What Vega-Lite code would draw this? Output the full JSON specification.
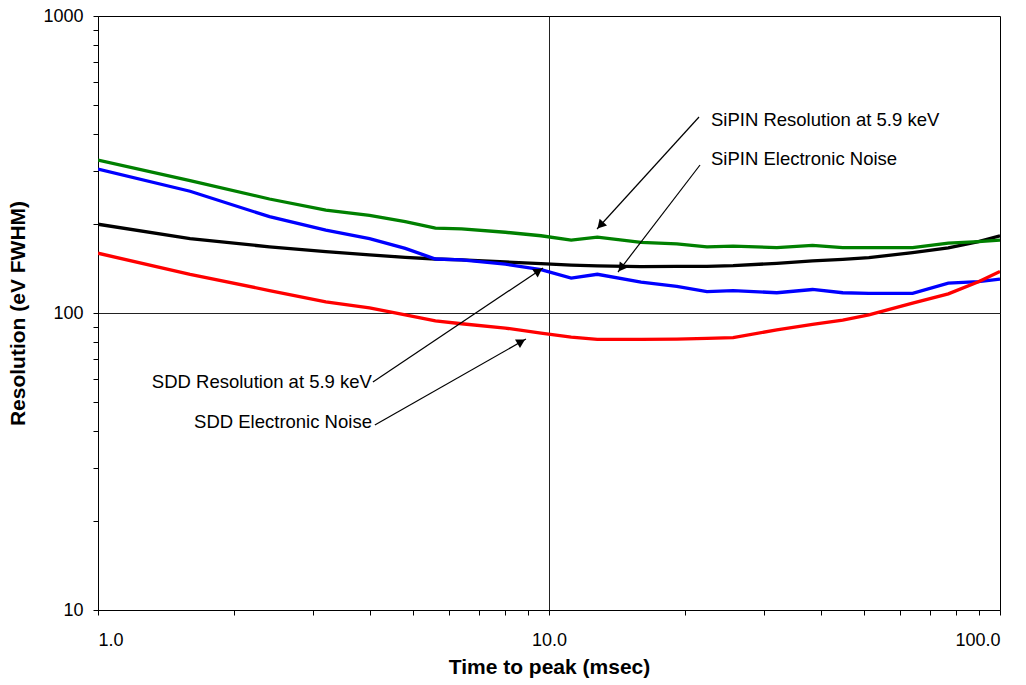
{
  "$schema": "https://vega.github.io/schema/vega-lite/v6.json",
  "width": 902,
  "height": 594,
  "autosize": {"type": "none"},
  "padding": {"left": 98, "top": 16, "right": 26, "bottom": 75},
  "background": "white",
  "config": {
    "view": {"stroke": "black", "strokeWidth": 1},
    "font": "Liberation Sans",
    "axis": {
      "domainColor": "black",
      "tickColor": "black",
      "labelColor": "black",
      "titleColor": "black",
      "labelFont": "Liberation Sans",
      "titleFont": "Liberation Sans",
      "labelFontSize": 18,
      "titleFontSize": 21,
      "titleFontWeight": "bold",
      "tickSize": 5,
      "gridColor": "#222222",
      "gridWidth": 1
    }
  },
  "datasets": {
    "curves": [
      {"s": "SDD Resolution", "t": 1.0, "r": 199}, {"s": "SDD Resolution", "t": 1.6, "r": 178}, {"s": "SDD Resolution", "t": 2.4, "r": 167}, {"s": "SDD Resolution", "t": 3.2, "r": 161}, {"s": "SDD Resolution", "t": 4.0, "r": 157}, {"s": "SDD Resolution", "t": 4.8, "r": 154}, {"s": "SDD Resolution", "t": 5.6, "r": 152}, {"s": "SDD Resolution", "t": 6.4, "r": 151}, {"s": "SDD Resolution", "t": 8.0, "r": 148.5}, {"s": "SDD Resolution", "t": 9.6, "r": 146.6}, {"s": "SDD Resolution", "t": 11.2, "r": 145}, {"s": "SDD Resolution", "t": 12.8, "r": 144}, {"s": "SDD Resolution", "t": 16, "r": 143.2}, {"s": "SDD Resolution", "t": 19.2, "r": 143.6}, {"s": "SDD Resolution", "t": 22.4, "r": 143.6}, {"s": "SDD Resolution", "t": 25.6, "r": 144.3}, {"s": "SDD Resolution", "t": 32, "r": 147}, {"s": "SDD Resolution", "t": 38.4, "r": 149.7}, {"s": "SDD Resolution", "t": 44.8, "r": 151.6}, {"s": "SDD Resolution", "t": 51.2, "r": 153.6}, {"s": "SDD Resolution", "t": 64, "r": 159.6}, {"s": "SDD Resolution", "t": 76.8, "r": 165.6}, {"s": "SDD Resolution", "t": 89.6, "r": 174}, {"s": "SDD Resolution", "t": 100, "r": 182},
      {"s": "SiPIN Resolution", "t": 1.0, "r": 327}, {"s": "SiPIN Resolution", "t": 1.6, "r": 279}, {"s": "SiPIN Resolution", "t": 2.4, "r": 242}, {"s": "SiPIN Resolution", "t": 3.2, "r": 222}, {"s": "SiPIN Resolution", "t": 4.0, "r": 213}, {"s": "SiPIN Resolution", "t": 4.8, "r": 203}, {"s": "SiPIN Resolution", "t": 5.6, "r": 193}, {"s": "SiPIN Resolution", "t": 6.4, "r": 192}, {"s": "SiPIN Resolution", "t": 8.0, "r": 187}, {"s": "SiPIN Resolution", "t": 9.6, "r": 182}, {"s": "SiPIN Resolution", "t": 11.2, "r": 176}, {"s": "SiPIN Resolution", "t": 12.8, "r": 180}, {"s": "SiPIN Resolution", "t": 16, "r": 173}, {"s": "SiPIN Resolution", "t": 19.2, "r": 171}, {"s": "SiPIN Resolution", "t": 22.4, "r": 167}, {"s": "SiPIN Resolution", "t": 25.6, "r": 168}, {"s": "SiPIN Resolution", "t": 32, "r": 166}, {"s": "SiPIN Resolution", "t": 38.4, "r": 169}, {"s": "SiPIN Resolution", "t": 44.8, "r": 166}, {"s": "SiPIN Resolution", "t": 51.2, "r": 166}, {"s": "SiPIN Resolution", "t": 64, "r": 166}, {"s": "SiPIN Resolution", "t": 76.8, "r": 172}, {"s": "SiPIN Resolution", "t": 89.6, "r": 174}, {"s": "SiPIN Resolution", "t": 100, "r": 176},
      {"s": "SiPIN Noise", "t": 1.0, "r": 305}, {"s": "SiPIN Noise", "t": 1.6, "r": 257}, {"s": "SiPIN Noise", "t": 2.4, "r": 211}, {"s": "SiPIN Noise", "t": 3.2, "r": 190}, {"s": "SiPIN Noise", "t": 4.0, "r": 178}, {"s": "SiPIN Noise", "t": 4.8, "r": 165}, {"s": "SiPIN Noise", "t": 5.6, "r": 152}, {"s": "SiPIN Noise", "t": 6.4, "r": 151}, {"s": "SiPIN Noise", "t": 8.0, "r": 146}, {"s": "SiPIN Noise", "t": 9.6, "r": 140}, {"s": "SiPIN Noise", "t": 11.2, "r": 131}, {"s": "SiPIN Noise", "t": 12.8, "r": 135}, {"s": "SiPIN Noise", "t": 16, "r": 127}, {"s": "SiPIN Noise", "t": 19.2, "r": 123}, {"s": "SiPIN Noise", "t": 22.4, "r": 118}, {"s": "SiPIN Noise", "t": 25.6, "r": 119}, {"s": "SiPIN Noise", "t": 32, "r": 117}, {"s": "SiPIN Noise", "t": 38.4, "r": 120}, {"s": "SiPIN Noise", "t": 44.8, "r": 117}, {"s": "SiPIN Noise", "t": 51.2, "r": 116.5}, {"s": "SiPIN Noise", "t": 64, "r": 116.5}, {"s": "SiPIN Noise", "t": 76.8, "r": 126}, {"s": "SiPIN Noise", "t": 89.6, "r": 127.5}, {"s": "SiPIN Noise", "t": 100, "r": 130},
      {"s": "SDD Noise", "t": 1.0, "r": 159}, {"s": "SDD Noise", "t": 1.6, "r": 135}, {"s": "SDD Noise", "t": 2.4, "r": 119}, {"s": "SDD Noise", "t": 3.2, "r": 109}, {"s": "SDD Noise", "t": 4.0, "r": 104}, {"s": "SDD Noise", "t": 4.8, "r": 98.5}, {"s": "SDD Noise", "t": 5.6, "r": 94}, {"s": "SDD Noise", "t": 6.4, "r": 92}, {"s": "SDD Noise", "t": 8.0, "r": 89}, {"s": "SDD Noise", "t": 9.6, "r": 85.5}, {"s": "SDD Noise", "t": 11.2, "r": 83}, {"s": "SDD Noise", "t": 12.8, "r": 81.5}, {"s": "SDD Noise", "t": 16, "r": 81.5}, {"s": "SDD Noise", "t": 19.2, "r": 81.7}, {"s": "SDD Noise", "t": 22.4, "r": 82.2}, {"s": "SDD Noise", "t": 25.6, "r": 82.6}, {"s": "SDD Noise", "t": 32, "r": 87.7}, {"s": "SDD Noise", "t": 38.4, "r": 91.6}, {"s": "SDD Noise", "t": 44.8, "r": 94.7}, {"s": "SDD Noise", "t": 51.2, "r": 98.5}, {"s": "SDD Noise", "t": 64, "r": 108}, {"s": "SDD Noise", "t": 76.8, "r": 116}, {"s": "SDD Noise", "t": 89.6, "r": 127.5}, {"s": "SDD Noise", "t": 100, "r": 138}
    ],
    "arrows": [
      {"id": 1, "t": 21.51, "r": 457, "t2": 12.78, "r2": 191.8, "ht": 13.0, "hr": 197.5},
      {"id": 2, "t": 21.62, "r": 315, "t2": 14.22, "r2": 137.4, "ht": 14.45, "hr": 141.8},
      {"id": 3, "t": 4.07, "r": 58.6, "t2": 9.70, "r2": 141.8, "ht": 9.48, "hr": 138.6},
      {"id": 4, "t": 4.11, "r": 41.97, "t2": 8.89, "r2": 81.7, "ht": 8.68, "hr": 80.1}
    ],
    "notes": [
      {"side": "left", "t": 22.75, "r": 446.5, "label": "SiPIN Resolution at 5.9 keV"},
      {"side": "left", "t": 22.75, "r": 330, "label": "SiPIN Electronic Noise"},
      {"side": "right", "t": 4.07, "r": 58.6, "label": "SDD Resolution at 5.9 keV"},
      {"side": "right", "t": 4.07, "r": 42.95, "label": "SDD Electronic Noise"}
    ]
  },
  "layer": [
    {
      "data": {"name": "curves"},
      "mark": {"type": "line", "strokeWidth": 3.3, "clip": true},
      "encoding": {
        "x": {
          "field": "t", "type": "quantitative",
          "scale": {"type": "log", "domain": [1, 100], "nice": false},
          "axis": {
            "title": "Time to peak (msec)",
            "values": [1, 2, 3, 4, 5, 6, 7, 8, 9, 10, 20, 30, 40, 50, 60, 70, 80, 90, 100],
            "format": ".1f",
            "labelExpr": "datum.value == 1 || datum.value == 10 || datum.value == 100 ? datum.label : ''",
            "labelPadding": 16,
            "labelBaseline": "top",
            "grid": true,
            "gridOpacity": {"condition": {"test": "datum.value == 10", "value": 1}, "value": 0},
            "titleY": 57,
            "titleBaseline": "middle"
          }
        },
        "y": {
          "field": "r", "type": "quantitative",
          "scale": {"type": "log", "domain": [10, 1000], "nice": false},
          "axis": {
            "title": "Resolution (eV FWHM)",
            "values": [10, 20, 30, 40, 50, 60, 70, 80, 90, 100, 200, 300, 400, 500, 600, 700, 800, 900, 1000],
            "format": "d",
            "labelExpr": "datum.value == 10 || datum.value == 100 || datum.value == 1000 ? datum.label : ''",
            "labelPadding": 10,
            "grid": true,
            "gridOpacity": {"condition": {"test": "datum.value == 100", "value": 1}, "value": 0},
            "titleX": -80,
            "titleBaseline": "middle"
          }
        },
        "color": {
          "field": "s", "type": "nominal", "legend": null,
          "scale": {
            "domain": ["SDD Resolution", "SiPIN Resolution", "SiPIN Noise", "SDD Noise"],
            "range": ["#000000", "#008000", "#0000FF", "#FF0000"]
          }
        }
      }
    },
    {
      "data": {"name": "arrows"},
      "mark": {"type": "rule", "color": "black", "strokeWidth": 1.2},
      "encoding": {
        "x": {"field": "t", "type": "quantitative"},
        "y": {"field": "r", "type": "quantitative"},
        "x2": {"field": "t2"},
        "y2": {"field": "r2"}
      }
    },
    {
      "data": {"name": "arrows"},
      "transform": [{"filter": "datum.id == 1"}],
      "mark": {"type": "point", "shape": "triangle-up", "filled": true, "color": "black", "size": 100, "angle": 222.3, "opacity": 1},
      "encoding": {"x": {"field": "ht", "type": "quantitative"}, "y": {"field": "hr", "type": "quantitative"}}
    },
    {
      "data": {"name": "arrows"},
      "transform": [{"filter": "datum.id == 2"}],
      "mark": {"type": "point", "shape": "triangle-up", "filled": true, "color": "black", "size": 100, "angle": 217.5, "opacity": 1},
      "encoding": {"x": {"field": "ht", "type": "quantitative"}, "y": {"field": "hr", "type": "quantitative"}}
    },
    {
      "data": {"name": "arrows"},
      "transform": [{"filter": "datum.id == 3"}],
      "mark": {"type": "point", "shape": "triangle-up", "filled": true, "color": "black", "size": 100, "angle": 56.2, "opacity": 1},
      "encoding": {"x": {"field": "ht", "type": "quantitative"}, "y": {"field": "hr", "type": "quantitative"}}
    },
    {
      "data": {"name": "arrows"},
      "transform": [{"filter": "datum.id == 4"}],
      "mark": {"type": "point", "shape": "triangle-up", "filled": true, "color": "black", "size": 100, "angle": 60.3, "opacity": 1},
      "encoding": {"x": {"field": "ht", "type": "quantitative"}, "y": {"field": "hr", "type": "quantitative"}}
    },
    {
      "data": {"name": "notes"},
      "transform": [{"filter": "datum.side == 'left'"}],
      "mark": {"type": "text", "align": "left", "baseline": "middle", "fontSize": 18.5, "font": "Liberation Sans", "color": "black", "dx": 1},
      "encoding": {
        "x": {"field": "t", "type": "quantitative"},
        "y": {"field": "r", "type": "quantitative"},
        "text": {"field": "label"}
      }
    },
    {
      "data": {"name": "notes"},
      "transform": [{"filter": "datum.side == 'right'"}],
      "mark": {"type": "text", "align": "right", "baseline": "middle", "fontSize": 18.5, "font": "Liberation Sans", "color": "black", "dx": -1},
      "encoding": {
        "x": {"field": "t", "type": "quantitative"},
        "y": {"field": "r", "type": "quantitative"},
        "text": {"field": "label"}
      }
    }
  ]
}
